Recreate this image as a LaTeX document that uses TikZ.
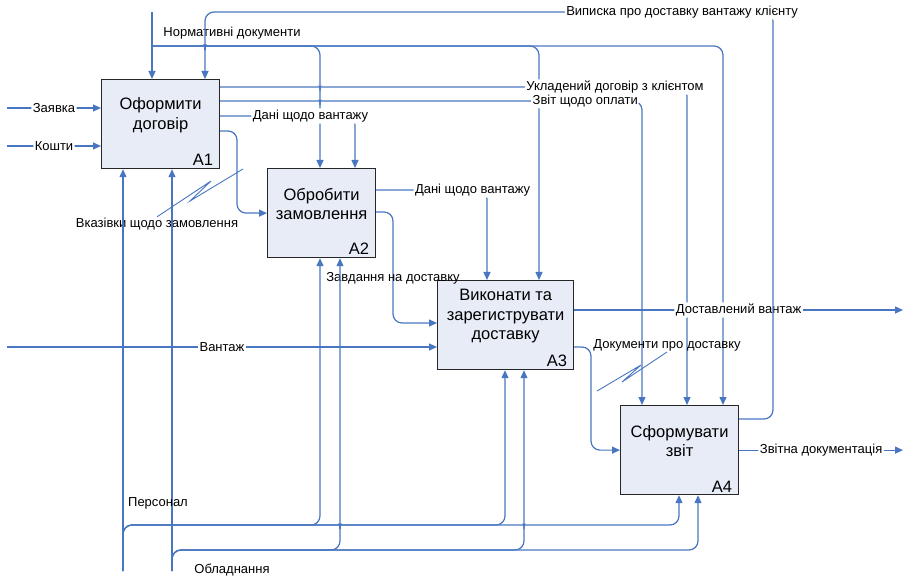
\documentclass[tikz,border=0pt]{standalone}
\usepackage{fontspec}
\setmainfont{Liberation Sans}
\usetikzlibrary{arrows.meta,positioning}
\definecolor{flowblue}{RGB}{72,118,192}
\definecolor{boxfill}{RGB}{231,236,247}
\newcommand{\lblfont}{\fontsize{13}{15}\selectfont}
\newcommand{\funcfont}{\fontsize{16.5}{19.5}\selectfont}

\begin{document}
\begin{tikzpicture}[x=1pt, y=-1pt,
    func/.style={draw=black!85, line width=1.2pt, fill=boxfill, minimum height=89pt, anchor=north west, inner sep=0pt},
    functext/.style={font=\funcfont, align=center, inner sep=0pt},
    funcnum/.style={font=\funcfont, anchor=south east, inner xsep=7pt, inner ysep=3pt},
    flow/.style={draw=flowblue, line width=1.2pt, rounded corners=9pt, -{Triangle[length=8pt,width=7pt]}},
    tie/.style={draw=flowblue, line width=0.9pt},
    lbl/.style={fill=white, inner sep=1.5pt, font=\lblfont},
    note/.style={inner sep=1pt, font=\lblfont},
    hump/.style args={#1,#2}{insert path={-- (#1-7,#2) .. controls (#1-2,#2) and (#1,#2-3) .. (#1,#2-5) .. controls (#1,#2-3) and (#1+2,#2) .. (#1+7,#2)}}]
    \useasboundingbox (0,0) rectangle (905,577);

    % Functions
    \node[func, minimum width=118pt] (a1) at (101,79) {};
    \node[func, minimum width=108pt] (a2) at (267,168) {};
    \node[func, minimum width=136pt] (a3) at (437,280) {};
    \node[func, minimum width=118pt] (a4) at (620,405) {};
    \node[functext] (a1t) at ([yshift=9pt]a1.center) {Оформити\\договір};
    \node[functext] (a2t) at ([yshift=9pt]a2.center) {Обробити\\замовлення};
    \node[functext] (a3t) at ([yshift=9pt]a3.center) {Виконати та\\зарегиструвати\\доставку};
    \node[functext] (a4t) at ([yshift=9pt]a4.center) {Сформувати\\звіт};
    \node[funcnum] (a1n) at (a1.south east) {A1};
    \node[funcnum] (a2n) at (a2.south east) {A2};
    \node[funcnum] (a3n) at (a3.south east) {A3};
    \node[funcnum] (a4n) at (a4.south east) {A4};

    % Inputs
    \coordinate (in1) at (7,108);
    \coordinate (in2) at (7,146);
    \coordinate (in3) at (7,347);
    \draw[flow] (in1) -- node[lbl]{Заявка} (in1 -| a1.west);
    \draw[flow] (in2) -- node[lbl]{Кошти} (in2 -| a1.west);
    \draw[flow] (in3) -- node[lbl]{Вантаж} (in3 -| a3.west);

    % Controls
    \coordinate (ctl) at (152,12);
    \coordinate (ctlb) at (152,46);
    \draw[flow] (ctl) -- (ctl |- a1.north);
    \node[note] (normlbl) at (232,33) {Нормативні документи};
    \draw[flow] (ctlb) [hump={205,46}] -- (320,46) -- (320,0 |- a2.north);
    \draw[flow] (ctlb) [hump={205,46}] -- (539,46) -- (539,0 |- a3.north);
    \draw[flow] (ctlb) [hump={205,46}] -- (723,46) -- (723,0 |- a4.north);

    % Outputs of A1
    \draw[flow] (a1.east |- 0,87) [hump={320,87}] -- node[lbl,pos=0.8]{Укладений договір з клієнтом} (687,87) -- (687,0 |- a4.north);
    \draw[flow] (a1.east |- 0,101) [hump={320,101}] -- node[lbl,pos=0.82]{Звіт щодо оплати} (642,101) -- (642,0 |- a4.north);
    \draw[flow] (a1.east |- 0,116) -- node[lbl,pos=0.67]{Дані щодо вантажу} (355,116) -- (355,0 |- a2.north);
    \draw[flow] (a1.east |- 0,131) -- (237,131) -- (237,0 |- a2.west) -- (a2.west);
    \node[note] (vkazlbl) at (157,224) {Вказівки щодо замовлення};
    \draw[tie] (vkazlbl.north) -- (211,181) -- (190,201) -- (243,169);

    % Outputs of A2
    \draw[flow] (a2.east |- 0,190) -- node[lbl,pos=0.87]{Дані щодо вантажу} (487,190) -- (487,0 |- a3.north);
    \draw[flow] (a2.east |- 0,212) -- (393,212) -- node[note,pos=0.6]{Завдання на доставку} (393,323) -- (a3.west |- 0,323);

    % Outputs of A3
    \draw[flow] (a3.east |- 0,310) -- node[lbl]{Доставлений вантаж} (903,310);
    \draw[flow] (a3.east |- 0,347) -- (591,347) -- (591,0 |- a4.west) -- (a4.west);
    \node[note] (doclbl) at (667,345) {Документи про доставку};
    \draw[tie] (doclbl.south) -- (622,382) -- (641,365) -- (597,391);

    % Outputs of A4
    \draw[flow] (a4.east |- 0,419) -- (773,419) -- (773,12) -- node[lbl,pos=0.16]{Виписка про доставку вантажу клієнту} (205,12) -- (205,0 |- a1.north);
    \draw[flow] (a4.east) -- node[lbl]{Звітна документація} (a4.east -| 903,0);

    % Mechanisms
    \coordinate (mch1) at (123,571);
    \coordinate (mch2) at (172,571);
    \draw[flow] (mch1) -- (mch1 |- a1.south);
    \draw[flow] (mch2) -- (mch2 |- a1.south);
    \draw[flow] (mch1) -- (123,525) -- (320,525) -- (320,0 |- a2.south);
    \draw[flow] (mch1) -- (123,525) [hump={340,525}] -- (505,525) -- (505,0 |- a3.south);
    \draw[flow] (mch1) -- (123,525) [hump={340,525}] [hump={524,525}] -- (679,525) -- (679,0 |- a4.south);
    \draw[flow] (mch2) -- (172,550) -- (340,550) -- (340,0 |- a2.south);
    \draw[flow] (mch2) -- (172,550) -- (524,550) -- (524,0 |- a3.south);
    \draw[flow] (mch2) -- (172,550) -- (698,550) -- (698,0 |- a4.south);
    \node[note] (perslbl) at (158,503) {Персонал};
    \node[note] (obllbl) at (232,570) {Обладнання};
\end{tikzpicture}
\end{document}
